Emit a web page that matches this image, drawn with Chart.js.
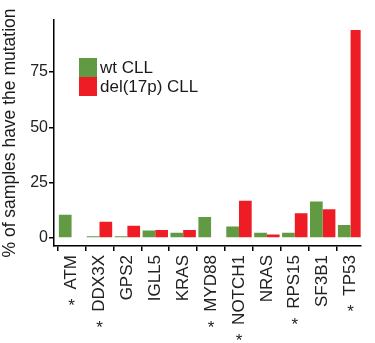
<!DOCTYPE html>
<html>
<head>
<meta charset="utf-8">
<script src="https://cdn.jsdelivr.net/npm/chart.js@4.4.1/dist/chart.umd.min.js"></script>
<style>
  html, body { margin: 0; padding: 0; background: #fff; overflow: hidden; }
  canvas { display: block; }
</style>
</head>
<body>
<canvas id="mutChart" width="375" height="343"></canvas>
<script>
// Genes on the x axis, with the ones marked by an asterisk
const genes = ['ATM', 'DDX3X', 'GPS2', 'IGLL5', 'KRAS', 'MYD88', 'NOTCH1', 'NRAS', 'RPS15', 'SF3B1', 'TP53'];
const significant = [true, true, false, false, false, true, true, false, true, false, true];

// % of samples with the mutation
const wtValues = [10.5, 0.8, 0.8, 3.4, 2.4, 9.5, 5.2, 2.4, 2.4, 16.5, 5.9];
const delValues = [null, 7.4, 5.5, 3.6, 3.6, null, 16.8, 1.6, 11.2, 13.0, 94];

const seriesNames = ['wt CLL', 'del(17p) CLL'];
const seriesColors = ['#619a42', '#ee1d25'];
const yTicks = [0, 25, 50, 75];

const FONT = 'Liberation Sans, Arial, sans-serif';
const X_FONT_SIZE = 17;
const X_PAD = 4;
const TICK_LEN = 5;

// Legend drawn inside the plot, like the original figure
const insideLegend = {
  id: 'insideLegend',
  afterDraw(chart) {
    const ctx = chart.ctx;
    ctx.save();
    ctx.font = '17px ' + FONT;
    ctx.textBaseline = 'middle';
    ctx.textAlign = 'left';
    seriesNames.forEach((name, i) => {
      const y = 58 + i * 19;
      ctx.fillStyle = seriesColors[i];
      ctx.fillRect(79, y, 18, 19);
      ctx.fillStyle = '#1a1a1a';
      ctx.fillText(name, 100, y + 10);
    });
    ctx.restore();
  }
};

// Asterisks under the significant genes, below each rotated label
const starMarks = {
  id: 'starMarks',
  afterDraw(chart) {
    const ctx = chart.ctx;
    const xs = chart.scales.x;
    ctx.save();
    ctx.font = X_FONT_SIZE + 'px ' + FONT;
    ctx.fillStyle = '#222';
    ctx.textAlign = 'center';
    ctx.textBaseline = 'alphabetic';
    genes.forEach((g, i) => {
      if (!significant[i]) return;
      const end = xs.top + TICK_LEN + X_PAD + ctx.measureText(g).width;
      ctx.fillText('*', xs.getPixelForValue(i), end + 12 + 9.5);
    });
    ctx.restore();
  }
};

const toPoints = arr => arr.map((v, i) => ({ x: i, y: v }));

new Chart(document.getElementById('mutChart').getContext('2d'), {
  type: 'bar',
  data: {
    datasets: [
      {
        label: seriesNames[0],
        data: toPoints(wtValues),
        backgroundColor: seriesColors[0],
        barPercentage: 1,
        categoryPercentage: 0.91
      },
      {
        label: seriesNames[1],
        data: toPoints(delValues),
        backgroundColor: seriesColors[1],
        barPercentage: 1,
        categoryPercentage: 0.91
      }
    ]
  },
  options: {
    responsive: false,
    animation: false,
    devicePixelRatio: 1,
    layout: { padding: { top: 20, left: 0, right: 0, bottom: 0 } },
    plugins: {
      legend: { display: false },
      tooltip: { enabled: false }
    },
    scales: {
      x: {
        type: 'linear',
        offset: false,
        min: -0.63,
        max: 10.36,
        afterBuildTicks: scale => { scale.ticks = genes.map((g, i) => ({ value: i })); },
        afterFit: scale => { scale.height = 97; },
        border: { color: '#000', width: 1.5 },
        grid: { drawOnChartArea: false, drawTicks: true, tickLength: TICK_LEN, color: '#000', lineWidth: 1.5 },
        ticks: {
          autoSkip: false,
          minRotation: 90,
          maxRotation: 90,
          padding: X_PAD,
          color: '#222',
          font: { family: FONT, size: X_FONT_SIZE },
          callback: value => genes[value]
        }
      },
      y: {
        min: -3.6,
        max: 98.5,
        afterBuildTicks: scale => { scale.ticks = yTicks.map(v => ({ value: v })); },
        afterFit: scale => { scale.width = 54; },
        border: { color: '#000', width: 1.5 },
        grid: { drawOnChartArea: false, drawTicks: true, tickLength: TICK_LEN, color: '#000', lineWidth: 1.5 },
        ticks: {
          padding: 1,
          color: '#222',
          font: { family: FONT, size: 16 }
        },
        title: {
          display: true,
          text: '% of samples have the mutation',
          color: '#1a1a1a',
          padding: { top: 0, bottom: 2 },
          font: { family: FONT, size: 17.5 }
        }
      }
    }
  },
  plugins: [insideLegend, starMarks]
});
</script>
</body>
</html>
